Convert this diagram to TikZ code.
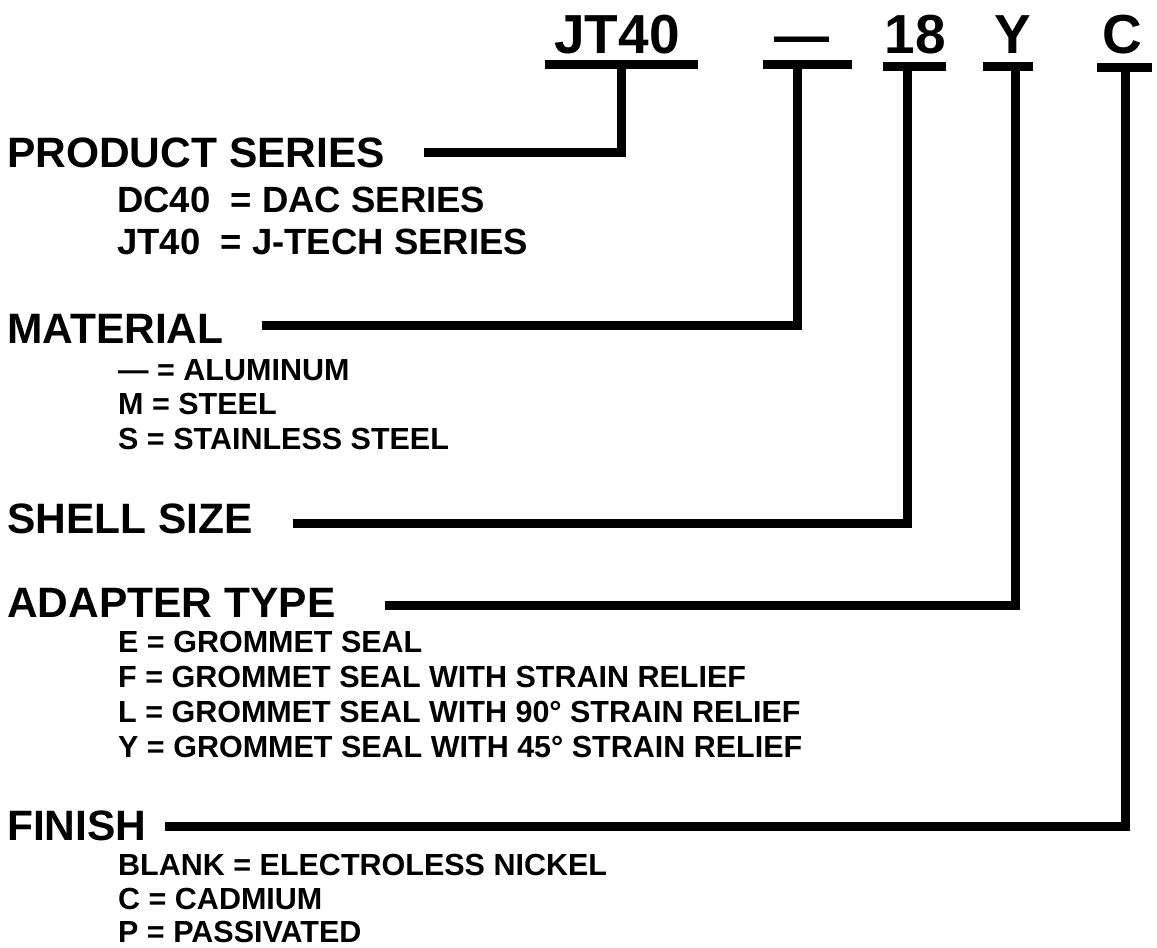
\documentclass[tikz,border=0pt]{standalone}
\usepackage{fontspec}
\setmainfont{Liberation Sans}
\begin{document}
\begin{tikzpicture}[x=1pt,y=-1pt,
  code/.style={anchor=base, inner sep=0pt, font=\fontsize{55}{60}\selectfont\bfseries},
  head/.style={anchor=base west, inner sep=0pt, font=\fontsize{42.5}{50}\selectfont\bfseries},
  itemA/.style={anchor=base west, inner sep=0pt, font=\fontsize{36.5}{40}\selectfont\bfseries},
  itemB/.style={anchor=base west, inner sep=0pt, font=\fontsize{30.5}{34}\selectfont\bfseries},
  bar/.style={line width=9pt},
  conn/.style={line width=9pt, line join=miter}]
\useasboundingbox[fill=white] (0,0) rectangle (1157,948);

% code letters
\node[code] (cJT) at (617,53) {JT40};
\node[code] (cM)  at (802,54) {—};
\node[code] (c18) at (915,53) {18};
\node[code] (cY)  at (1012.5,53) {Y};
\node[code] (cC)  at (1122.5,53) {C};

% bars under code letters
\draw[bar] (545,64.5) -- (698,64.5);
\draw[bar] (763,64.5) -- (852,64.5);
\draw[bar] (883,66.5) -- (946,66.5);
\draw[bar] (983,66.5) -- (1033,66.5);
\draw[bar] (1097,67) -- (1152,67);

\coordinate (bJT) at (621,64.5);
\coordinate (bM)  at (797,64.5);
\coordinate (b18) at (907,66.5);
\coordinate (bY)  at (1015,66.5);
\coordinate (bC)  at (1125,67);

% headings
\node[head] (hPS) at (7,167) {PRODUCT SERIES};
\node[itemA] (iPS1) at (117,212) {DC40~~= DAC SERIES};
\node[itemA] (iPS2) at (117,254) {JT40~~= J-TECH SERIES};

\node[head] (hMA) at (7,343) {MATERIAL};
\node[itemB] (iMA1) at (118,380) {— = ALUMINUM};
\node[itemB] (iMA2) at (118,414) {M = STEEL};
\node[itemB] (iMA3) at (118,449) {S = STAINLESS STEEL};

\node[head] (hSS) at (7,533) {SHELL SIZE};

\node[head] (hAT) at (7,617) {ADAPTER TYPE};
\node[itemB] (iAT1) at (118,652) {E = GROMMET SEAL};
\node[itemB] (iAT2) at (118,687) {F = GROMMET SEAL WITH STRAIN RELIEF};
\node[itemB] (iAT3) at (118,722) {L = GROMMET SEAL WITH 90° STRAIN RELIEF};
\node[itemB] (iAT4) at (118,757) {Y = GROMMET SEAL WITH 45° STRAIN RELIEF};

\node[head] (hFI) at (7,840) {FINISH};
\node[itemB] (iFI1) at (118,875) {BLANK = ELECTROLESS NICKEL};
\node[itemB] (iFI2) at (118,909) {C = CADMIUM};
\node[itemB] (iFI3) at (118,942) {P = PASSIVATED};

% connector start points
\coordinate (sPS) at (424,152);
\coordinate (sMA) at (262,325);
\coordinate (sSS) at (293,523.5);
\coordinate (sAT) at (385,605.5);
\coordinate (sFI) at (165,826);

\draw[conn] (sPS) -| (bJT);
\draw[conn] (sMA) -| (bM);
\draw[conn] (sSS) -| (b18);
\draw[conn] (sAT) -| (bY);
\draw[conn] (sFI) -| (bC);
\end{tikzpicture}
\end{document}
